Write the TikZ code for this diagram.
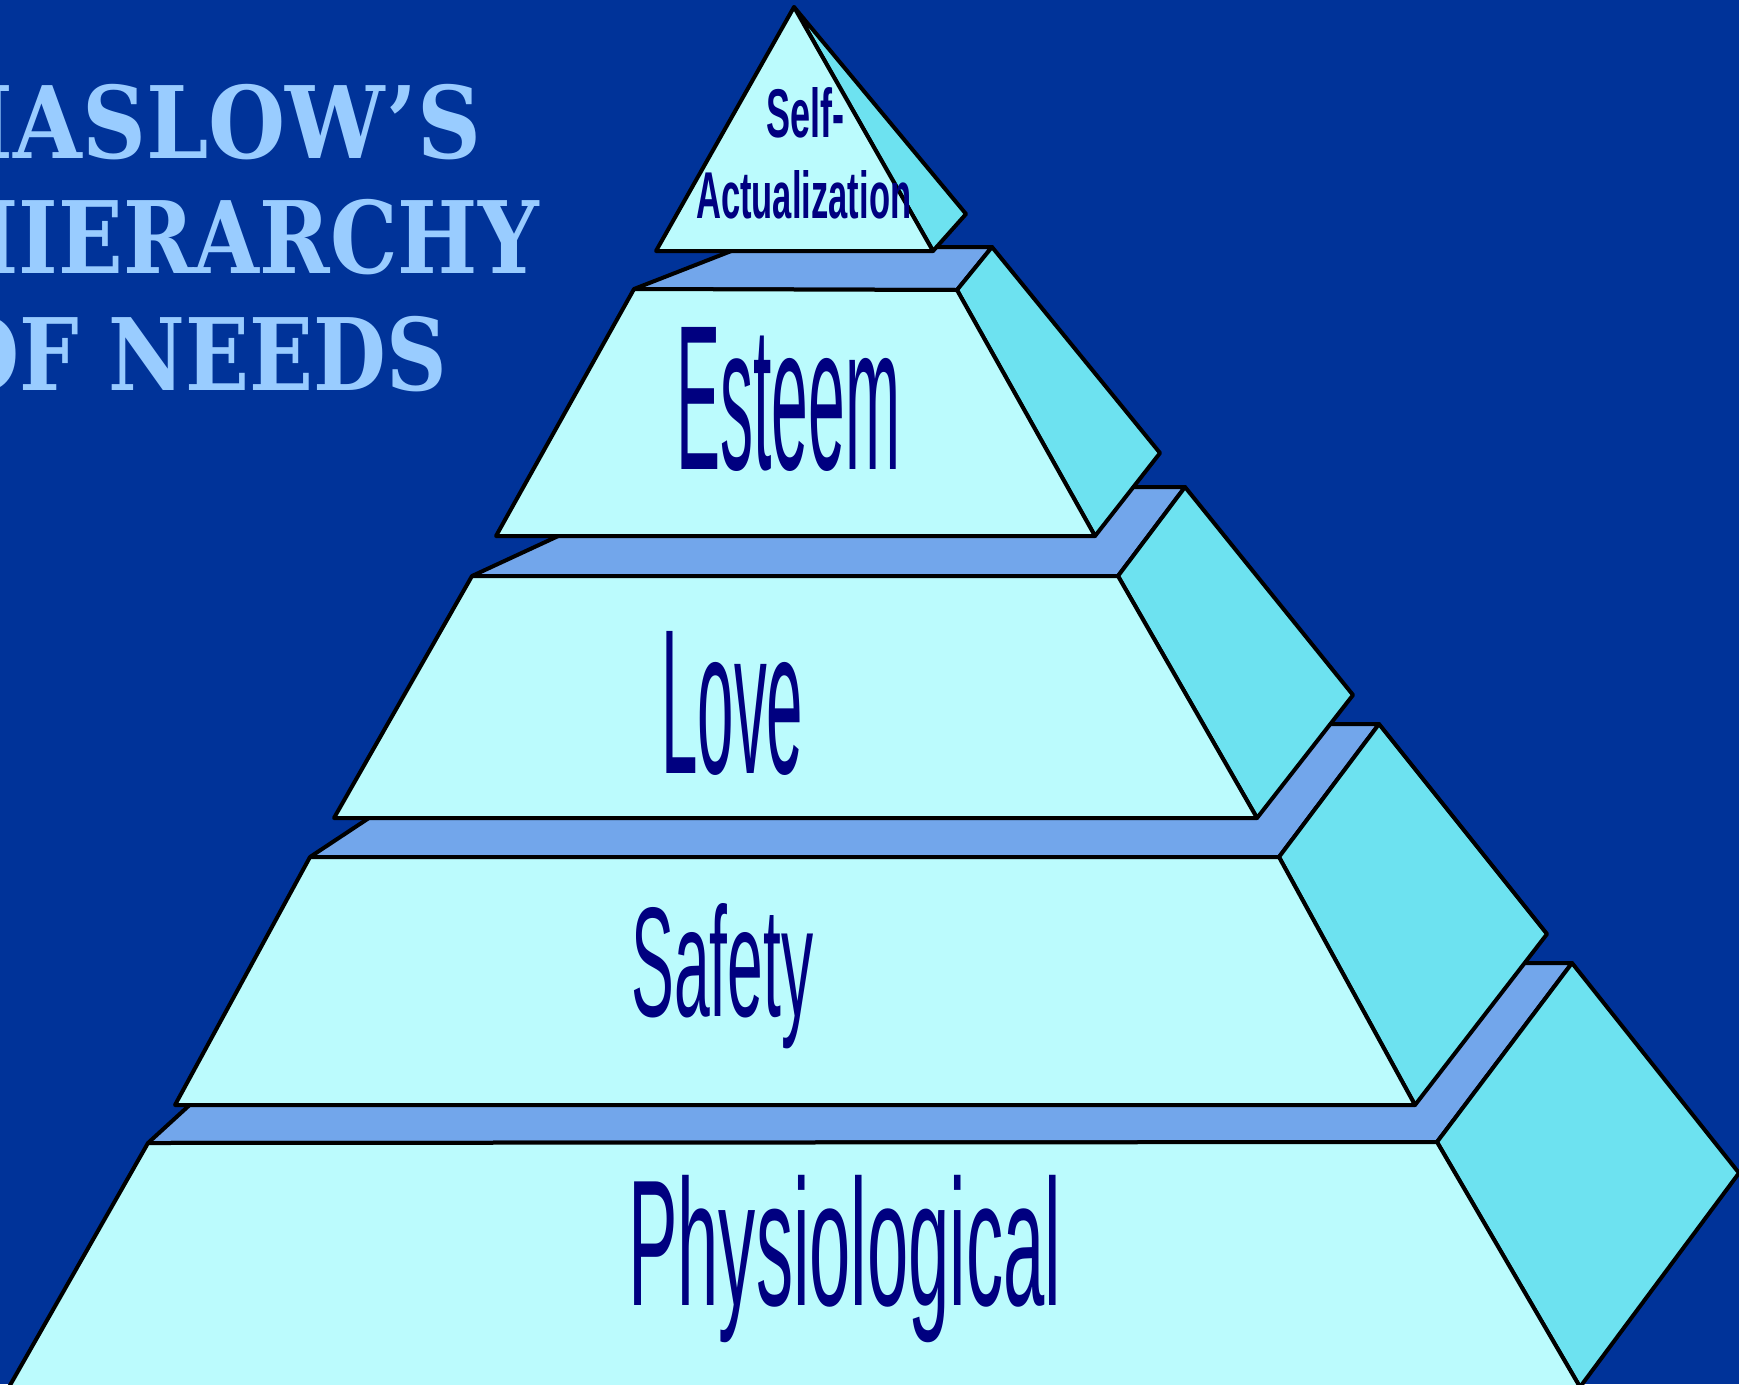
\documentclass[tikz,border=0pt]{standalone}
\usepackage{fontspec}
\usepackage{graphicx}
\setmainfont{Liberation Sans}
\newfontfamily\titlefont{DejaVu Serif}
\definecolor{bg}{HTML}{003399}
\definecolor{frontc}{HTML}{BBFBFD}
\definecolor{sidec}{HTML}{6DE2F0}
\definecolor{platec}{HTML}{72A6EB}
\definecolor{labelc}{HTML}{000080}
\definecolor{titlec}{HTML}{99CCFF}
\newsavebox\ttlpart
\newcommand\ttlfont{\titlefont\bfseries\fontsize{100}{100}\selectfont}
% \fitword{visible part}{full word}{visible ink width}
\newcommand\fitword[3]{%
  \sbox\ttlpart{\ttlfont #1}%
  \pgfmathsetmacro\ttlscale{#3/(\the\wd\ttlpart)}%
  \scalebox{\ttlscale}[1]{\ttlfont #2}}
\begin{document}
\begin{tikzpicture}[x=1pt,y=-1pt,
  edge/.style={draw=black,line width=4pt,line join=round},
  frontface/.style={edge,fill=frontc},
  sideface/.style={edge,fill=sidec},
  topface/.style={edge,fill=platec},
  lbl/.style={text=labelc,inner sep=0pt,anchor=base west},
  ttl/.style={text=titlec,inner sep=0pt,anchor=base east}]
\useasboundingbox (0,0) rectangle (1739,1384);
\clip (0,0) rectangle (1739,1384);
\fill[bg] (0,0) rectangle (1739,1384);

% title
\node[ttl] (t1) at (482,158) {\fitword{ASLOW’S}{MASLOW’S}{468}};
\node[ttl] (t2) at (539,273) {\fitword{IERARCHY}{HIERARCHY}{520}};
\node[ttl] (t3) at (447,390) {\fitword{F NEEDS}{OF NEEDS}{427}};

% Physiological level
\draw[topface] (148,1143) -- (345,963) -- (1572,963) -- (1437,1142) -- cycle;
\draw[sideface] (1437,1142) -- (1572,963) -- (1739,1173) -- (1580,1387) -- cycle;
\draw[frontface] (148,1143) -- (1437,1142) -- (1580,1387) -- (9,1387) -- cycle;
\node[lbl] (physio) at (628,1305) {\resizebox{433pt}{130pt}{Physiological}};

% Safety level
\draw[topface] (310,857) -- (511,724) -- (1379,724) -- (1279,857) -- cycle;
\draw[sideface] (1279,857) -- (1379,724) -- (1547,934) -- (1415,1105) -- cycle;
\draw[frontface] (310,857) -- (1279,857) -- (1415,1105) -- (175,1105) -- cycle;
\node[lbl] (safety) at (631,1016) {\resizebox{182pt}{113pt}{Safety}};

% Love level
\draw[topface] (472,576) -- (664,487) -- (1185,487) -- (1118,576) -- cycle;
\draw[sideface] (1118,576) -- (1185,487) -- (1353,695) -- (1257,818) -- cycle;
\draw[frontface] (472,576) -- (1118,576) -- (1257,818) -- (334,818) -- cycle;
\node[lbl] (love) at (661,773) {\resizebox{142pt}{142pt}{Love}};

% Esteem level
\draw[topface] (634,289) -- (739,248) -- (992,247) -- (957,290) -- cycle;
\draw[sideface] (957,290) -- (992,247) -- (1160,453) -- (1095,536) -- cycle;
\draw[frontface] (634,289) -- (957,290) -- (1095,536) -- (496,536) -- cycle;
\node[lbl] (esteem) at (676,469) {\resizebox{224pt}{142pt}{Esteem}};

% Top level
\draw[sideface] (794,7) -- (966,214) -- (933,251) -- cycle;
\draw[frontface] (794,7) -- (933,251) -- (656,251) -- cycle;
\node[lbl] (self) at (766,137) {\resizebox{78pt}{50pt}{\bfseries Self-}};
\node[lbl] (actual) at (696,218) {\resizebox{215pt}{48pt}{\bfseries Actualization}};
\end{tikzpicture}
\end{document}
